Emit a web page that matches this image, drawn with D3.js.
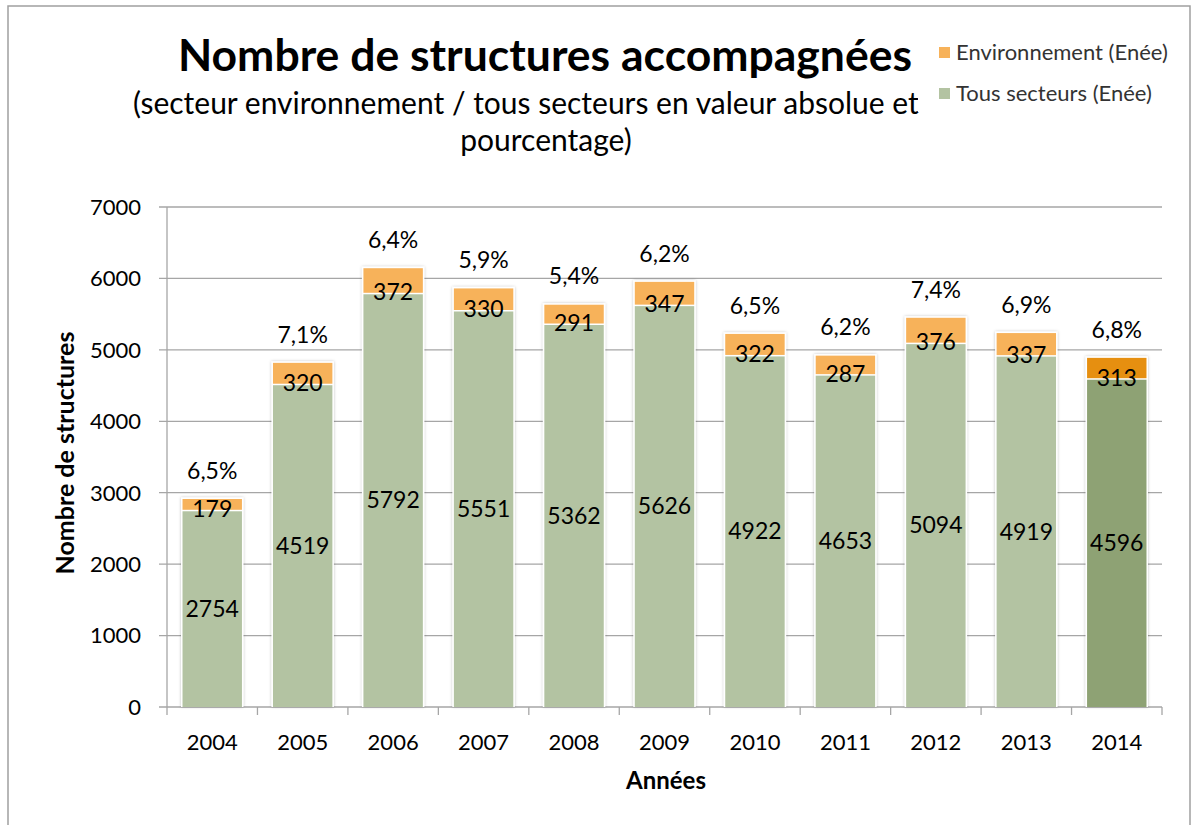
<!DOCTYPE html>
<html><head><meta charset="utf-8">
<script src="https://cdn.jsdelivr.net/npm/d3@7"></script>
<style>body{margin:0;background:#fff}svg{display:block}text{font-family:Lato,"Open Sans",sans-serif;fill:#000}</style>
</head><body><svg id="c" width="1195" height="825"></svg>
<script>
const years = ["2004","2005","2006","2007","2008","2009","2010","2011","2012","2013","2014"];
const tousSecteurs = [2754,4519,5792,5551,5362,5626,4922,4653,5094,4919,4596];
const environnement = [179,320,372,330,291,347,322,287,376,337,313];
const pourcentages = ["6,5%","7,1%","6,4%","5,9%","5,4%","6,2%","6,5%","6,2%","7,4%","6,9%","6,8%"];
const yTicks = [0,1000,2000,3000,4000,5000,6000,7000];
const seriesNames = ["Environnement (Enée)","Tous secteurs (Enée)"];
const colEnv = "#f7b25a", colTous = "#b3c3a2";
const colEnvHi = "#e68f10", colTousHi = "#8ea274";
const highlightYear = "2014";

const svg = d3.select("#c");
const x = d3.scaleBand().domain(years).range([167,1162]).paddingInner(0.31).paddingOuter(0.155);
const y = d3.scaleLinear().domain([0,7000]).range([707,207]);

svg.append("path").attr("d","M8,830V6H1190V830").attr("fill","none").attr("stroke","#a0a0a0").attr("stroke-width",1.5);

svg.append("g").selectAll("line").data(yTicks).join("line")
  .attr("x1",159).attr("x2",1162).attr("y1",d=>y(d)).attr("y2",d=>y(d))
  .attr("stroke","#a6a6a6").attr("stroke-width",1.3);
svg.append("line").attr("x1",167).attr("x2",167).attr("y1",y(7000)).attr("y2",y(0)).attr("stroke","#a6a6a6").attr("stroke-width",1.3);
const bounds = years.map(d=>x(d)-x.step()*x.paddingInner()/2).concat([1162]);
svg.append("g").selectAll("line").data(bounds).join("line")
  .attr("x1",d=>d).attr("x2",d=>d).attr("y1",y(0)).attr("y2",y(0)+8)
  .attr("stroke","#a6a6a6").attr("stroke-width",1.3);

svg.append("g").selectAll("text").data(yTicks).join("text")
  .attr("x",141).attr("y",d=>y(d)).attr("dy","0.36em").attr("text-anchor","end")
  .attr("font-size",22).text(d=>d);
svg.append("g").selectAll("text").data(years).join("text")
  .attr("x",d=>x(d)+x.bandwidth()/2).attr("y",750).attr("text-anchor","middle")
  .attr("font-size",22).text(d=>d);

const defs = svg.append("defs");
const f = defs.append("filter").attr("id","sh").attr("x","-20%").attr("y","-20%").attr("width","140%").attr("height","140%");
f.append("feDropShadow").attr("dx",0).attr("dy",0).attr("stdDeviation",1.6).attr("flood-color","#000").attr("flood-opacity",0.25);

const bars = svg.append("g");
years.forEach((yr,i)=>{
  const t = tousSecteurs[i], e = environnement[i];
  const hi = yr===highlightYear;
  const g = bars.append("g");
  g.append("rect").attr("x",x(yr)).attr("width",x.bandwidth())
    .attr("y",y(t+e)).attr("height",y(0)-y(t+e)).attr("fill","#fff").attr("filter","url(#sh)");
  g.append("rect").attr("x",x(yr)+1.5).attr("width",x.bandwidth()-3)
    .attr("y",y(t)+1).attr("height",y(0)-y(t)-1).attr("fill",hi?colTousHi:colTous);
  g.append("rect").attr("x",x(yr)+1.5).attr("width",x.bandwidth()-3)
    .attr("y",y(t+e)+1.5).attr("height",y(t)-y(t+e)-2).attr("fill",hi?colEnvHi:colEnv);
  g.append("text").attr("x",x(yr)+x.bandwidth()/2).attr("y",(y(t)+y(0))/2).attr("dy","0.36em")
    .attr("text-anchor","middle").attr("font-size",23).text(t);
  g.append("text").attr("x",x(yr)+x.bandwidth()/2).attr("y",y(t)).attr("dy","0.3em")
    .attr("text-anchor","middle").attr("font-size",23).text(e);
  g.append("text").attr("x",x(yr)+x.bandwidth()/2).attr("y",y(t+e)-27).attr("dy","0.36em")
    .attr("text-anchor","middle").attr("font-size",23).text(pourcentages[i]);
});

svg.append("text").attr("x",666).attr("y",789).attr("text-anchor","middle").attr("font-size",24).attr("font-weight","bold").text("Années");
svg.append("text").attr("transform","translate(74,453) rotate(-90)").attr("text-anchor","middle").attr("font-size",25).attr("font-weight","bold").text("Nombre de structures");

svg.append("text").attr("x",545).attr("y",71).attr("text-anchor","middle").attr("font-size",44.5).attr("font-weight","bold").text("Nombre de structures accompagnées");
svg.append("text").attr("x",133).attr("y",114).attr("text-anchor","start").attr("font-size",30).text("(secteur environnement / tous secteurs en valeur absolue et");
svg.append("text").attr("x",546).attr("y",151).attr("text-anchor","middle").attr("font-size",30).text("pourcentage)");

const lg = svg.append("g");
lg.append("rect").attr("x",918).attr("y",32).attr("width",271).attr("height",80).attr("fill","#fff");
const lcols = [colEnv, colTous];
seriesNames.forEach((n,i)=>{
  const cy = 52 + i*41;
  lg.append("rect").attr("x",939).attr("y",cy-5).attr("width",11).attr("height",11).attr("fill",lcols[i]);
  lg.append("text").attr("x",956).attr("y",cy).attr("dy","0.36em").attr("font-size",22).style("fill","#333").text(n);
});
</script></body></html>
